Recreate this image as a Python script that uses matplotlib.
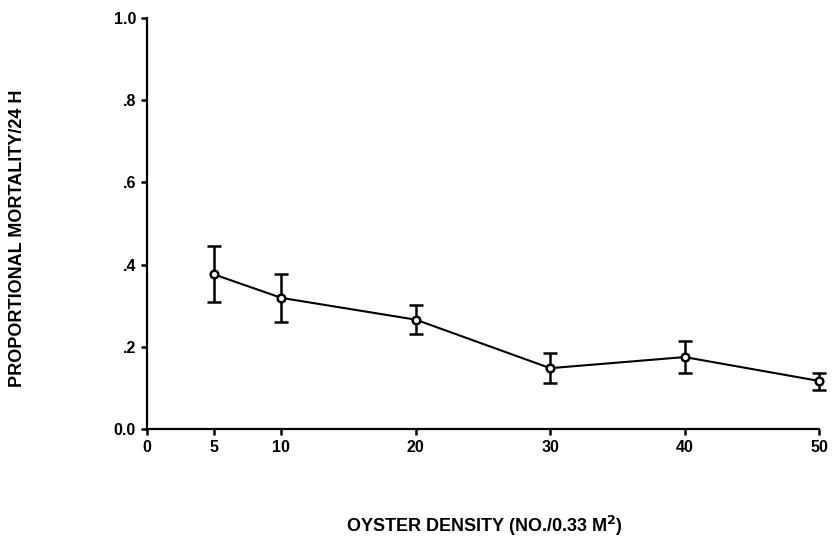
import matplotlib
matplotlib.use("Agg")
import matplotlib.pyplot as plt

density = [5, 10, 20, 30, 40, 50]
mortality = [0.376, 0.319, 0.266, 0.148, 0.175, 0.117]
err_upper = [0.445, 0.376, 0.301, 0.185, 0.214, 0.136]
err_lower = [0.309, 0.260, 0.231, 0.111, 0.136, 0.095]
x_ticks = [0, 5, 10, 20, 30, 40, 50]
y_ticks = [0.0, 0.2, 0.4, 0.6, 0.8, 1.0]
y_tick_labels = ["0.0", ".2", ".4", ".6", ".8", "1.0"]

plt.rcParams['font.family'] = ['Liberation Sans', 'DejaVu Sans']

fig = plt.figure(figsize=(8.33, 5.38), dpi=100)
ax = fig.add_axes([147/833, 1 - 429/538, (819-147)/833, (429-18)/538])

yerr = [[m - lo for m, lo in zip(mortality, err_lower)],
        [hi - m for m, hi in zip(mortality, err_upper)]]
container = ax.errorbar(density, mortality, yerr=yerr, color='black', lw=1.5,
                        elinewidth=1.8, capsize=5, capthick=4,
                        marker='o', markersize=5.5, markerfacecolor='white',
                        markeredgecolor='black', markeredgewidth=1.8, zorder=3)
for artist in container.get_children():
    artist.set_clip_on(False)

ax.set_xlim(0, 50)
ax.set_ylim(0, 1.0)
ax.set_xticks(x_ticks)
ax.set_xticklabels([str(v) for v in x_ticks], fontsize=11.5, fontweight='bold')
ax.set_yticks(y_ticks)
ax.set_yticklabels(y_tick_labels, fontsize=11.5, fontweight='bold')
for s in ['top', 'right']:
    ax.spines[s].set_visible(False)
for s in ['left', 'bottom']:
    ax.spines[s].set_linewidth(1.6)
ax.tick_params(direction='out', length=4, width=1.8, pad=4)

fig.text(18/833, 1 - 238/538, "PROPORTIONAL MORTALITY/24 H", rotation=90,
         ha='center', va='center', fontsize=13, fontweight='bold')
fig.text(484/833, 1 - 526/538, "OYSTER DENSITY (NO./0.33 M$^{\\mathbf{2}}$)",
         ha='center', va='center', fontsize=13, fontweight='bold')

fig.savefig("out.png", dpi=100)
